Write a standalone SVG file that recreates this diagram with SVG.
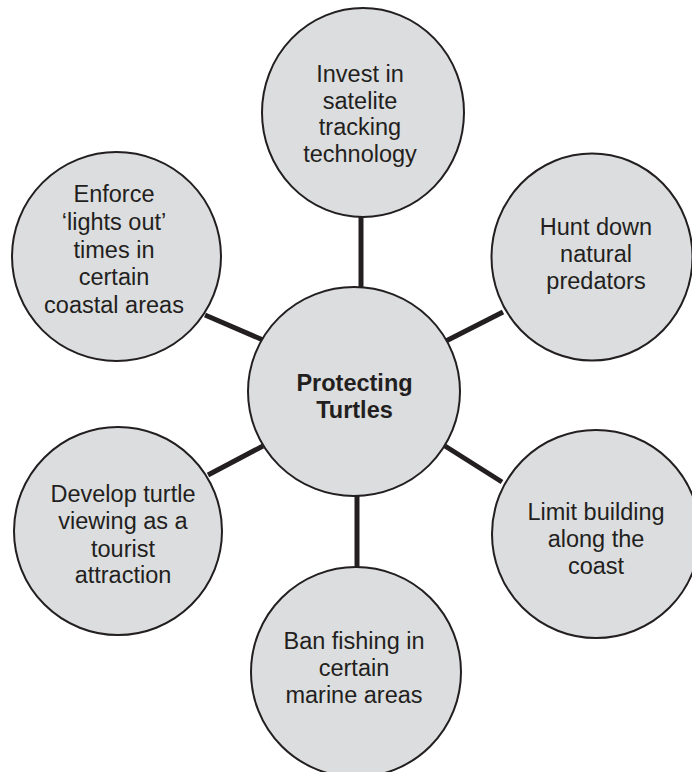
<svg xmlns="http://www.w3.org/2000/svg" width="692" height="772" viewBox="0 0 692 772">
<style>
.node{fill:#dcdddf;stroke:#231f20;stroke-width:2}
.lbl{font-family:"Liberation Sans",Arial,Helvetica,sans-serif;font-size:23.5px;fill:#231f20;text-anchor:middle}
.bold{font-weight:bold}
.conn line{stroke:#231f20;stroke-width:5;stroke-linecap:butt}
</style>
<rect width="692" height="772" fill="#ffffff"/>
<g id="connectors" class="conn">
<line x1="361" y1="216" x2="361" y2="288"/>
<line x1="357" y1="495" x2="357" y2="568"/>
<line x1="205" y1="315" x2="263" y2="340"/>
<line x1="446" y1="341" x2="503" y2="312"/>
<line x1="208" y1="475" x2="263" y2="446"/>
<line x1="445" y1="446" x2="502" y2="482"/>
</g>
<g id="center">
<ellipse class="node" cx="354" cy="391.5" rx="106" ry="104.5"/>
<text class="lbl bold" x="354.5" y="391">Protecting</text>
<text class="lbl bold" x="354.5" y="418">Turtles</text>
</g>
<g id="node-satellite">
<ellipse class="node" cx="363" cy="112.5" rx="101" ry="104.5"/>
<text class="lbl" x="360" y="82">Invest in</text>
<text class="lbl" x="360" y="108.5">satelite</text>
<text class="lbl" x="360" y="135">tracking</text>
<text class="lbl" x="360" y="161.5">technology</text>
</g>
<g id="node-predators">
<ellipse class="node" cx="592" cy="257" rx="100.5" ry="103.5"/>
<text class="lbl" x="596" y="235">Hunt down</text>
<text class="lbl" x="596" y="262">natural</text>
<text class="lbl" x="596" y="289">predators</text>
</g>
<g id="node-building">
<ellipse class="node" cx="596" cy="534" rx="104" ry="104"/>
<text class="lbl" x="596" y="520">Limit building</text>
<text class="lbl" x="596" y="547">along the</text>
<text class="lbl" x="596" y="574">coast</text>
</g>
<g id="node-fishing">
<ellipse class="node" cx="356" cy="672" rx="105" ry="105"/>
<text class="lbl" x="354" y="649">Ban fishing in</text>
<text class="lbl" x="354" y="676">certain</text>
<text class="lbl" x="354" y="703">marine areas</text>
</g>
<g id="node-tourism">
<ellipse class="node" cx="118" cy="531" rx="104" ry="104"/>
<text class="lbl" x="123" y="502">Develop turtle</text>
<text class="lbl" x="123" y="529">viewing as a</text>
<text class="lbl" x="123" y="556.5">tourist</text>
<text class="lbl" x="123" y="583">attraction</text>
</g>
<g id="node-lights">
<ellipse class="node" cx="116.5" cy="256.5" rx="104.5" ry="104.5"/>
<text class="lbl" x="114" y="202.3">Enforce</text>
<text class="lbl" x="114" y="230">‘lights out’</text>
<text class="lbl" x="114" y="257.7">times in</text>
<text class="lbl" x="114" y="285">certain</text>
<text class="lbl" x="114" y="312.7">coastal areas</text>
</g>
</svg>
